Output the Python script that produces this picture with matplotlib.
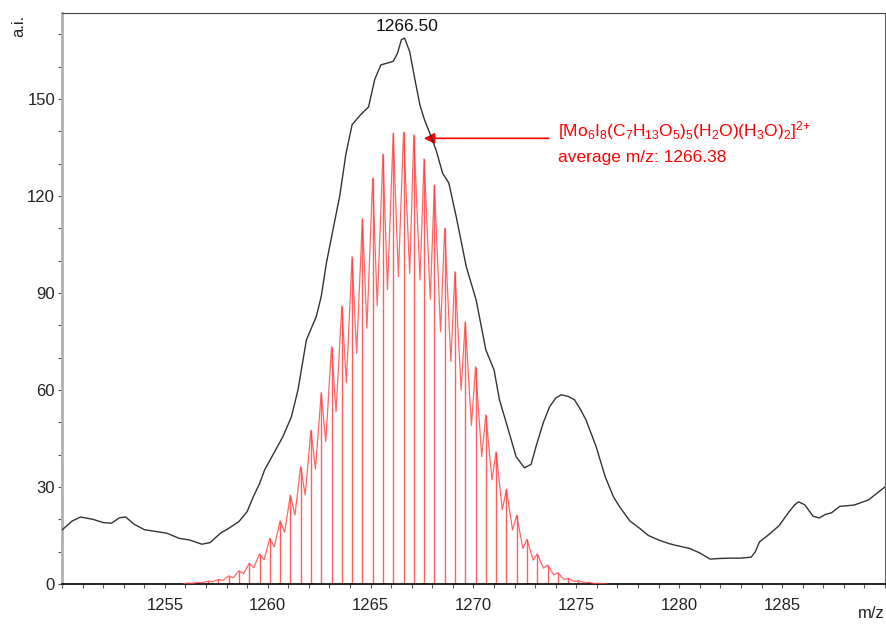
import matplotlib
matplotlib.use('Agg')
import matplotlib.pyplot as plt
from matplotlib.ticker import MultipleLocator
import numpy as np

plt.rcParams['font.family'] = ['Liberation Sans', 'DejaVu Sans']
plt.rcParams['mathtext.default'] = 'regular'

# measured spectrum (black trace)
meas_mz = [1250.0, 1250.5, 1250.9, 1251.5, 1252.0, 1252.4, 1252.8, 1253.1, 1253.5, 1254.0,
           1254.3, 1255.1, 1255.7, 1256.2, 1256.8, 1257.2, 1257.7, 1258.1, 1258.6, 1259.0,
           1259.3, 1259.6, 1259.85, 1260.3, 1260.74, 1261.15, 1261.47, 1261.88, 1262.36, 1262.6,
           1262.85, 1263.17, 1263.5, 1263.8, 1264.1, 1264.5, 1264.9, 1265.2, 1265.5, 1266.1,
           1266.3, 1266.5, 1266.65, 1266.9, 1267.14, 1267.4, 1267.62, 1267.9, 1268.19, 1268.5,
           1268.8, 1269.16, 1269.65, 1270.13, 1270.6, 1271.0, 1271.26, 1271.6, 1272.07, 1272.48,
           1272.8, 1273.04, 1273.4, 1273.7, 1274.0, 1274.26, 1274.6, 1274.9, 1275.2, 1275.47,
           1275.96, 1276.4, 1276.8, 1277.1, 1277.6, 1278.06, 1278.5, 1279.0, 1279.5, 1279.8,
           1280.5, 1281.0, 1281.5, 1282.0, 1282.5, 1283.0, 1283.5, 1283.7, 1283.9, 1284.3,
           1284.85, 1285.3, 1285.6, 1285.8, 1286.1, 1286.5, 1286.8, 1287.1, 1287.4, 1287.8,
           1288.5, 1289.2, 1289.6, 1290.0]
meas_int = [16.7, 19.5, 20.7, 20.0, 19.0, 18.8, 20.5, 20.7, 18.5, 16.8,
            16.5, 15.7, 14.1, 13.6, 12.3, 12.8, 15.7, 17.2, 19.3, 22.4,
            27.0, 31.0, 35.3, 40.5, 45.6, 51.7, 60.0, 75.5, 82.7, 88.9,
            99.2, 109.5, 120.0, 133.0, 142.0, 145.0, 147.5, 156.0, 160.5, 161.6,
            164.0, 168.3, 168.8, 164.6, 156.4, 148.0, 143.5, 139.0, 134.0, 127.0,
            124.0, 113.6, 98.1, 87.8, 72.4, 66.2, 57.0, 49.7, 39.4, 35.9,
            37.0, 42.5, 50.0, 54.8, 57.5, 58.5, 58.0, 57.0, 54.0, 50.7,
            42.5, 33.2, 27.0, 23.9, 19.5, 17.3, 15.0, 13.6, 12.5, 12.0,
            11.0, 9.6, 7.7, 7.9, 8.0, 8.0, 8.3, 10.0, 13.0, 15.0,
            18.0, 22.0, 24.4, 25.4, 24.5, 21.0, 20.4, 21.5, 22.0, 24.0,
            24.4, 26.0, 28.0, 30.0]

# simulated isotope pattern (red sticks)
stick_mz = [1256.1, 1256.6, 1257.1, 1257.6, 1258.1, 1258.6, 1259.1, 1259.6, 1260.1, 1260.6,
            1261.1, 1261.6, 1262.1, 1262.6, 1263.1, 1263.6, 1264.1, 1264.6, 1265.1, 1265.6,
            1266.1, 1266.6, 1267.1, 1267.6, 1268.1, 1268.6, 1269.1, 1269.6, 1270.1, 1270.6,
            1271.1, 1271.6, 1272.1, 1272.6, 1273.1, 1273.6, 1274.1, 1274.6, 1275.1, 1275.6,
            1276.1]
stick_int = [0.3, 0.5, 0.9, 1.4, 2.5, 4.1, 6.4, 9.3, 14.1, 19.5,
             27.5, 36.3, 47.6, 59.2, 73.4, 86.0, 101.2, 113.0, 125.5, 132.9,
             139.4, 139.7, 138.9, 131.4, 123.4, 110.0, 96.6, 81.1, 67.2, 52.3,
             40.9, 29.3, 21.3, 13.8, 9.3, 5.9, 3.5, 1.7, 1.0, 0.5,
             0.2]

# valleys of the simulated profile between the isotope peaks
valley_mz = [1255.9, 1256.32, 1256.82, 1257.32, 1257.82, 1258.32, 1258.82, 1259.32, 1259.82, 1260.32,
             1260.82, 1261.32, 1261.82, 1262.32, 1262.82, 1263.32, 1263.82, 1264.32, 1264.82, 1265.32,
             1265.82, 1266.35, 1266.9, 1267.4, 1267.9, 1268.4, 1268.9, 1269.4, 1269.9, 1270.4,
             1270.9, 1271.4, 1271.9, 1272.4, 1272.9, 1273.4, 1273.9, 1274.4, 1274.9, 1275.4,
             1275.9, 1276.5]
valley_int = [0.0, 0.2, 0.4, 0.7, 1.1, 1.9, 3.2, 5.0, 7.5, 11.5,
              16.0, 21.3, 27.5, 35.5, 44.0, 53.3, 62.3, 71.4, 79.1, 86.0,
              91.0, 95.0, 96.0, 94.0, 88.0, 78.0, 68.8, 60.0, 49.0, 39.4,
              32.2, 22.9, 16.7, 11.0, 7.4, 4.9, 2.8, 1.4, 0.8, 0.4,
              0.15, 0.0]

prof_mz = np.array(stick_mz + valley_mz)
prof_int = np.array(stick_int + valley_int)
order = np.argsort(prof_mz)

fig = plt.figure(figsize=(8.87, 6.26), dpi=100)
ax = fig.add_axes([0.0699, 0.0671, 0.9278, 0.9119])

ax.vlines(stick_mz, 0, stick_int, color='#ff2a2a', lw=1.0, alpha=0.75, zorder=2)
ax.plot(prof_mz[order], prof_int[order], color='#ff4040', lw=0.9, alpha=0.8, zorder=3)
ax.plot(meas_mz, meas_int, color='#333333', lw=1.0, zorder=4)

ax.set_xlim(1250, 1290)
ax.set_ylim(0, 176.5)
ax.xaxis.set_major_locator(MultipleLocator(5))
ax.xaxis.set_minor_locator(MultipleLocator(1))
ax.yaxis.set_major_locator(MultipleLocator(30))
ax.yaxis.set_minor_locator(MultipleLocator(10))
ax.set_xticks([1255, 1260, 1265, 1270, 1275, 1280, 1285])
ax.tick_params(axis='x', which='both', length=3, width=0.8, color='#555555', pad=7,
               labelsize=12, labelcolor='#222222')
ax.tick_params(axis='y', which='both', length=3, width=0.8, color='#555555', pad=2,
               labelsize=12, labelcolor='#222222')

ax.spines['left'].set_color('#b0b0b0')
ax.spines['left'].set_linewidth(2)
ax.spines['bottom'].set_color('#000000')
ax.spines['bottom'].set_linewidth(1.2)
ax.spines['top'].set_color('#444444')
ax.spines['right'].set_color('#666666')

ax.text(1266.75, 170.0, '1266.50', ha='center', va='bottom', fontsize=12.5, color='#111111')

ax.annotate('', xy=(1267.45, 137.8), xytext=(1273.8, 137.8),
            arrowprops=dict(arrowstyle='-|>', color='red', lw=1.2, mutation_scale=16))
ax.text(1274.1, 140.3, r'[Mo$_6$I$_8$(C$_7$H$_{13}$O$_5$)$_5$(H$_2$O)(H$_3$O)$_2$]$^{2{+}}$',
        color='red', fontsize=12.5, ha='left', va='center')
ax.text(1274.1, 132.0, 'average m/z: 1266.38', color='red', fontsize=12.5, ha='left', va='center')

fig.text(0.021, 0.976, 'a.i.', rotation=90, ha='center', va='top', fontsize=12, color='#222222')
fig.text(0.997, 0.008, 'm/z', ha='right', va='bottom', fontsize=12, color='#222222')

fig.savefig('out.png', dpi=100)
